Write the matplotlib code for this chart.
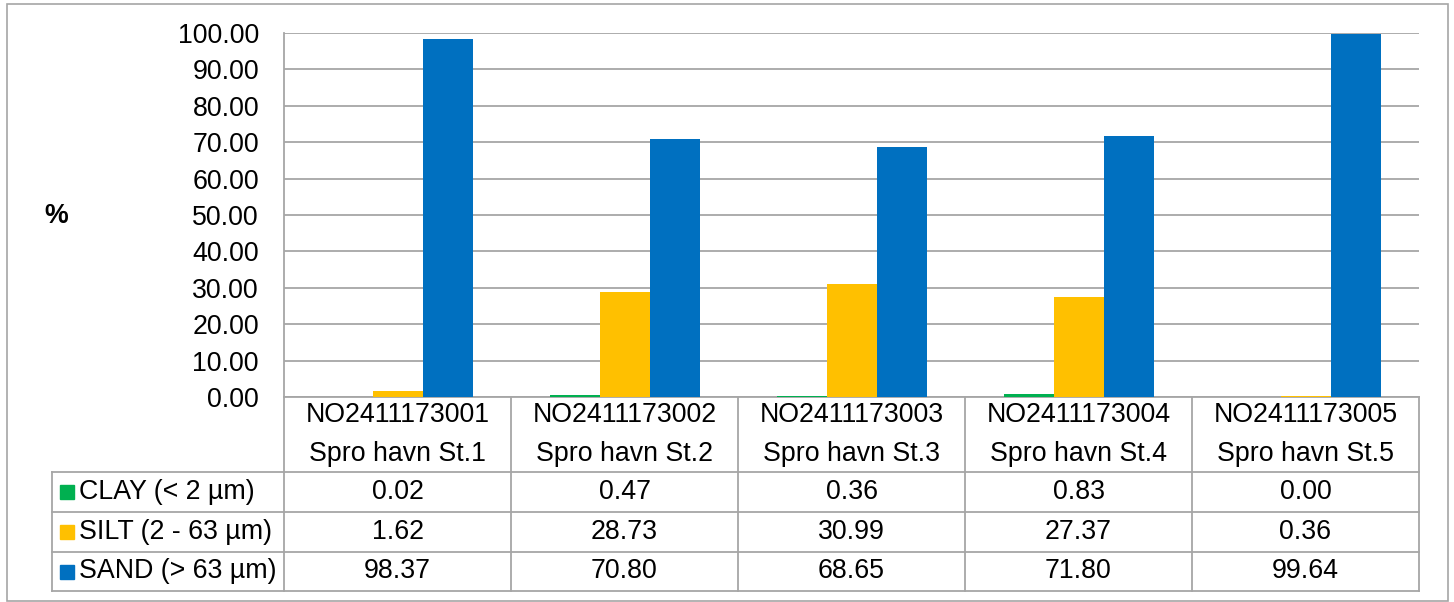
import matplotlib
matplotlib.use("Agg")
import matplotlib.pyplot as plt
from matplotlib.lines import Line2D
from matplotlib.patches import Rectangle

plt.rcParams['font.family'] = ['Liberation Sans', 'DejaVu Sans']

# dane
stations = ['NO2411173001\nSpro havn St.1', 'NO2411173002\nSpro havn St.2',
            'NO2411173003\nSpro havn St.3', 'NO2411173004\nSpro havn St.4',
            'NO2411173005\nSpro havn St.5']
series = ['CLAY (< 2 µm)', 'SILT (2 - 63 µm)', 'SAND (> 63 µm)']
clay = [0.02, 0.47, 0.36, 0.83, 0.00]
silt = [1.62, 28.73, 30.99, 27.37, 0.36]
sand = [98.37, 70.80, 68.65, 71.80, 99.64]
yticks = [0, 10, 20, 30, 40, 50, 60, 70, 80, 90, 100]

colors = ['#00B050', '#FFC000', '#0070C0']
grid_c = '#A6A6A6'
W, H = 1454, 602
fs = 19.3


def fx(px):
    return px / W


def fy(py):
    return 1 - py / H


fig = plt.figure(figsize=(W / 100, H / 100), dpi=100)

# ramka wykresu
fig.add_artist(Rectangle((fx(7), fy(601)), fx(1448) - fx(7), fy(4) - fy(601),
                         fill=False, ec=grid_c, lw=1.2, transform=fig.transFigure))

x0, x1, ytop, ybot = 284, 1419, 33, 397
ax = fig.add_axes([fx(x0), fy(ybot), fx(x1) - fx(x0), fy(ytop) - fy(ybot)])

n = len(stations)
bw = 50 / ((x1 - x0) / n)
for j, vals in enumerate([clay, silt, sand]):
    xs = [i + (j - 1) * bw for i in range(n)]
    ax.bar(xs, vals, width=bw, color=colors[j], zorder=3)

ax.set_xlim(-0.5, n - 0.5)
ax.set_ylim(0, 100)
ax.set_yticks(yticks)
ax.set_yticklabels([f'{v:.2f}' for v in yticks], fontsize=fs)
ax.set_xticks([])
ax.tick_params(axis='y', length=0, pad=18)
ax.grid(axis='y', color=grid_c, lw=1.3, zorder=0)
for s in ['top', 'right']:
    ax.spines[s].set_visible(False)
for s in ['left', 'bottom']:
    ax.spines[s].set_color(grid_c)
    ax.spines[s].set_linewidth(1.3)

fig.text(fx(56), fy(216), '%', fontsize=fs, fontweight='bold', ha='center', va='center')

# tabela danych
rows = [397, 472, 512, 552, 591]
colw = (x1 - x0) / n
cols = [x0 + k * colw for k in range(n + 1)]
lx = 52


def hline(xa, xb, y):
    fig.add_artist(Line2D([fx(xa), fx(xb)], [fy(y), fy(y)], color=grid_c, lw=1.3,
                          transform=fig.transFigure))


def vline(x, ya, yb):
    fig.add_artist(Line2D([fx(x), fx(x)], [fy(ya), fy(yb)], color=grid_c, lw=1.3,
                          transform=fig.transFigure))


for y in rows[1:]:
    hline(lx, x1, y)
for c in cols:
    vline(c, rows[0], rows[-1])
vline(lx, rows[1], rows[-1])

for i, st in enumerate(stations):
    cx = (cols[i] + cols[i + 1]) / 2
    l1, l2 = st.split('\n')
    fig.text(fx(cx), fy(415), l1, fontsize=fs, ha='center', va='center')
    fig.text(fx(cx), fy(454), l2, fontsize=fs, ha='center', va='center')

for j, vals in enumerate([clay, silt, sand]):
    cy = (rows[j + 1] + rows[j + 2]) / 2
    fig.add_artist(Rectangle((fx(60), fy(cy + 7)), fx(14), fy(0) - fy(14),
                             color=colors[j], transform=fig.transFigure))
    fig.text(fx(79), fy(cy), series[j], fontsize=fs, ha='left', va='center')
    for i, v in enumerate(vals):
        cx = (cols[i] + cols[i + 1]) / 2
        fig.text(fx(cx), fy(cy), f'{v:.2f}', fontsize=fs, ha='center', va='center')

fig.savefig('out.png', dpi=100)
